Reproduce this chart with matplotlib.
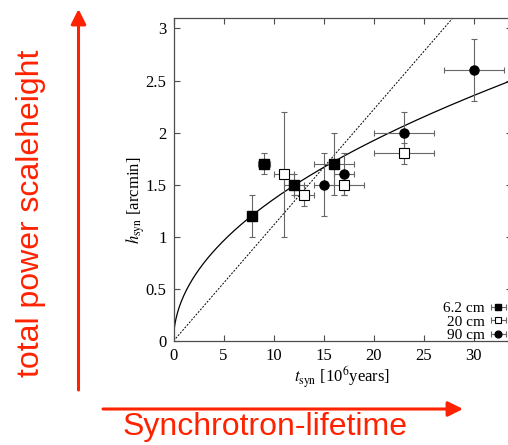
import numpy as np
import matplotlib
matplotlib.use("Agg")
import matplotlib.pyplot as plt

plt.rcParams['font.family'] = ['Liberation Serif', 'DejaVu Serif']
plt.rcParams['mathtext.fontset'] = 'stix'

# data: t_syn [10^6 yr], h_syn [arcmin]
t_62 = [7.8, 9.0, 12.0, 16.0]
h_62 = [1.2, 1.7, 1.5, 1.7]
te_62 = [0.3, 0.6, 1.0, 2.0]
he_62 = [0.2, 0.1, 0.1, 0.3]

t_20 = [11.0, 13.0, 17.0, 23.0]
h_20 = [1.6, 1.4, 1.5, 1.8]
te_20 = [1.0, 1.0, 2.0, 3.0]
he_20 = [0.6, 0.1, 0.1, 0.1]

t_90 = [15.0, 17.0, 23.0, 30.0]
h_90 = [1.5, 1.6, 2.0, 2.6]
te_90 = [1.0, 1.0, 3.0, 3.0]
he_90 = [0.3, 0.2, 0.2, 0.3]

labels = ['6.2 cm', '20 cm', '90 cm']

# model curves: h = a*sqrt(t) (solid) and h = b*t (dashed)
sqrt_coef = 0.43
lin_coef = 0.111

red = '#ff2200'
W, H = 508, 445

fig = plt.figure(figsize=(5.08, 4.45), dpi=100)
ax = fig.add_axes([173.5 / W, 1 - 341 / H, 338 / W, 323 / H])

tt = np.linspace(0, 34, 400)
ax.plot(tt, sqrt_coef * np.sqrt(tt), color='black', lw=0.9)
ax.plot(tt, lin_coef * tt, color='black', lw=0.7, dashes=(2, 1.5))

ebkw = dict(ecolor='0.4', elinewidth=0.8, capsize=2, capthick=0.8, ls='none')
styles = [dict(fmt='s', mfc='black', mec='black'),
          dict(fmt='s', mfc='white', mec='black', mew=0.8),
          dict(fmt='o', mfc='black', mec='black')]
series = [(t_62, h_62, te_62, he_62), (t_20, h_20, te_20, he_20),
          (t_90, h_90, te_90, he_90)]

proxies = []
for (t, h, te, he), st in zip(series, styles):
    ax.errorbar(t, h, xerr=te, yerr=he, ms=6.5, **st, **ebkw)
    # legend key: horizontal bar only, as in the original
    proxies.append(ax.errorbar([np.nan], [np.nan], xerr=[1], ms=6.5,
                               **st, **ebkw))

ax.set_xlim(0, 33.8)
ax.set_ylim(0, 3.1)
ax.set_xticks(np.arange(0, 31, 5))
ax.set_yticks([0, 0.5, 1, 1.5, 2, 2.5, 3])
ax.set_yticklabels(['0', '0.5', '1', '1.5', '2', '2.5', '3'])
ax.tick_params(direction='in', length=4, width=0.8, top=True, right=True,
               labelsize=12, color='0.3', pad=5)
for s in ax.spines.values():
    s.set_color('0.3')
    s.set_linewidth(0.9)

ax.set_xlabel(r'$t_{\rm syn}$ [10$^6$years]', fontsize=12, labelpad=0)
fig.text(136 / W, 1 - 200 / H, r'$h_{\rm syn}$ [arcmin]', rotation=90,
         ha='center', va='center', fontsize=12)

ax.legend(proxies, labels, loc='lower right', bbox_to_anchor=(0.988, -0.004),
          markerfirst=False, frameon=False, fontsize=11, labelspacing=0.0,
          handlelength=1.2, handletextpad=0.3, borderaxespad=0.0,
          borderpad=0.0, markerscale=0.75)

# red annotation arrows and texts
ax.annotate('', xy=(78.5, H - 9), xytext=(78.5, H - 390),
            xycoords='figure pixels', textcoords='figure pixels',
            arrowprops=dict(arrowstyle='-|>,head_length=0.9,head_width=0.45',
                            color=red, lw=2.2, shrinkA=0, shrinkB=0),
            annotation_clip=False)
ax.annotate('', xy=(463, H - 409), xytext=(103, H - 409),
            xycoords='figure pixels', textcoords='figure pixels',
            arrowprops=dict(arrowstyle='-|>,head_length=0.9,head_width=0.45',
                            color=red, lw=2.2, shrinkA=0, shrinkB=0),
            annotation_clip=False)

fig.text(31 / W, 1 - 213 / H, 'total power scaleheight', rotation=90,
         ha='center', va='center', fontsize=23, color=red,
         family='Liberation Sans')
fig.text(265 / W, 10 / H, 'Synchrotron-lifetime', ha='center',
         va='baseline', fontsize=23, color=red, family='Liberation Sans')

fig.savefig('out.png', dpi=100)
